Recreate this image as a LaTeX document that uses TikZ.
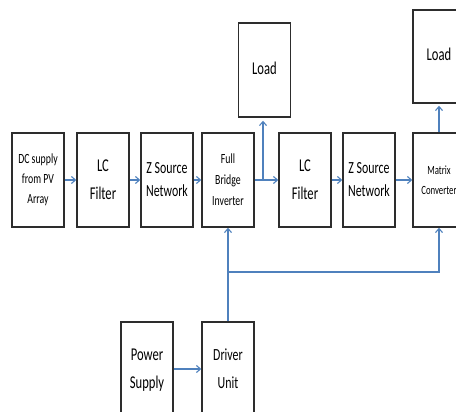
\documentclass[tikz,border=0pt]{standalone}
\usepackage{fontspec}
\setmainfont{Carlito}
\usetikzlibrary{arrows.meta}
\definecolor{myblue}{RGB}{79,129,189}
\definecolor{boxline}{RGB}{45,45,45}
\newcommand\tx[3]{\scalebox{0.7}[1]{\fontsize{#1}{#2}\selectfont\begin{tabular}{@{}c@{}}#3\end{tabular}}}
\begin{document}
\begin{tikzpicture}[x=1pt,y=-1pt,
  box/.style={draw=boxline, line width=1.5pt, minimum width=52pt, minimum height=94pt, inner sep=0pt},
  arr/.style={draw=myblue, line width=1.1pt, -{Straight Barb[length=4pt,width=7pt]}}]
\clip (0,0) rectangle (456,412);
\node[box] (dc) at (38,180) {\tx{14}{20}{DC supply\\from PV\\Array}};
\node[box] (lc1) at (103,180) {\tx{18}{28}{LC\\Filter}};
\node[box] (zs1) at (167,180) {\tx{17}{23}{Z Source\\Network}};
\node[box] (fb) at (228,180) {\tx{14}{21}{Full\\Bridge\\Inverter}};
\node[box] (ld1) at (264.5,70) {\tx{18}{22}{Load}};
\node[box] (lc2) at (305,180) {\tx{18}{28}{LC\\Filter}};
\node[box] (zs2) at (369,180) {\tx{17}{23}{Z Source\\Network}};
\node[box] (mc) at (439,180) {\tx{12.5}{20}{Matrix\\Converter}};
\node[box, minimum height=93pt] (ld2) at (439,56.5) {\tx{18}{22}{Load}};
\node[box] (ps) at (147,369) {\tx{18}{28}{Power\\Supply}};
\node[box] (du) at (228,369) {\tx{17}{28}{Driver\\Unit}};
\draw[arr] (dc.east) -- (lc1.west);
\draw[arr] (lc1.east) -- (zs1.west);
\draw[arr] (zs1.east) -- (fb.west);
\draw[arr] (fb.east) -- (lc2.west);
\coordinate (br) at (263,180);
\draw[arr, shorten >=3pt] (br) -- (br |- ld1.south);
\draw[arr] (lc2.east) -- (zs2.west);
\draw[arr] (zs2.east) -- (mc.west);
\draw[arr, shorten >=2pt] (mc.north) -- (ld2.south);
\draw[arr] (ps.east) -- (du.west);
\draw[arr] (du.north) -- (fb.south);
\coordinate (j1) at (228,272);
\coordinate (j2) at (439,272);
\draw[arr] (j1) -- (j2) -- (mc.south);
\end{tikzpicture}
\end{document}
